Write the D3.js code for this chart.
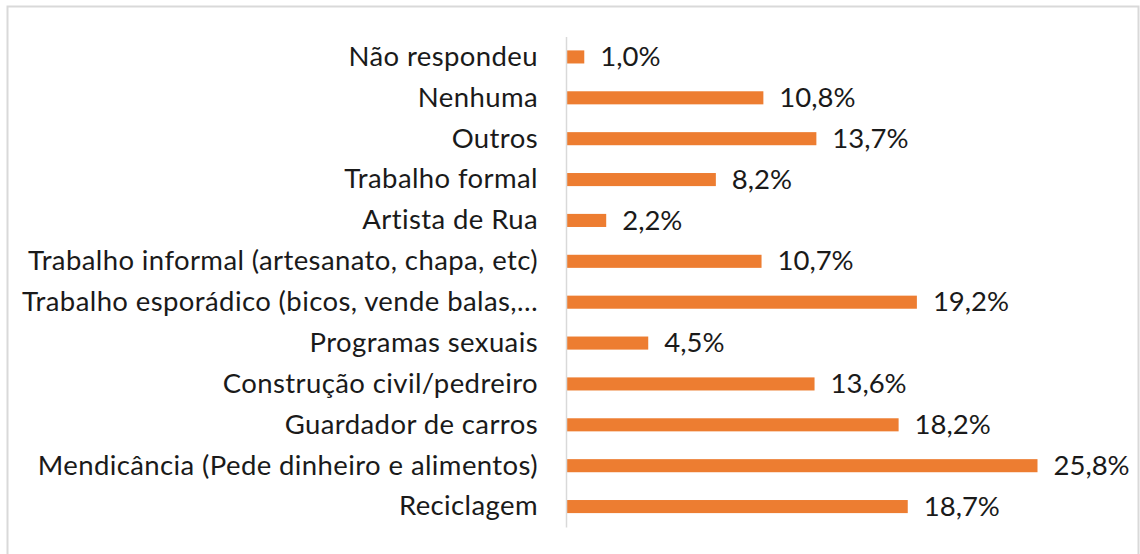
<!DOCTYPE html>
<html><head><meta charset="utf-8">
<script src="https://cdn.jsdelivr.net/npm/d3@7"></script>
<style>
html,body{margin:0;padding:0;background:#fff;}
text{font-family:Lato,"Open Sans",sans-serif;fill:#1a1a1a;}
</style></head>
<body>
<svg id="c" width="1140" height="554"></svg>
<script>
const categories = [
  "Não respondeu",
  "Nenhuma",
  "Outros",
  "Trabalho formal",
  "Artista de Rua",
  "Trabalho informal (artesanato, chapa, etc)",
  "Trabalho esporádico (bicos, vende balas,…",
  "Programas sexuais",
  "Construção civil/pedreiro",
  "Guardador de carros",
  "Mendicância (Pede dinheiro e alimentos)",
  "Reciclagem"
];
const values = [1.0, 10.8, 13.7, 8.2, 2.2, 10.7, 19.2, 4.5, 13.6, 18.2, 25.8, 18.7];
const valueLabels = ["1,0%","10,8%","13,7%","8,2%","2,2%","10,7%","19,2%","4,5%","13,6%","18,2%","25,8%","18,7%"];

const svg = d3.select("#c");
// frame
svg.append("rect").attr("x",7.5).attr("y",6.5).attr("width",1131).attr("height",560)
  .attr("fill","#fff").attr("stroke","#d9d9d9").attr("stroke-width",2);

const x0 = 566, plotTop = 36.5, plotBottom = 527;
const x = d3.scaleLinear().domain([0, 25.8]).range([x0, 1037.5]);
const y = d3.scaleBand().domain(categories).range([plotTop, plotBottom]).paddingInner(0.68).paddingOuter(0.34);

const fs = 27.5;
const g = svg.append("g");
g.selectAll("rect.bar").data(values).enter().append("rect")
  .attr("class","bar")
  .attr("x", x(0))
  .attr("y", (d,i)=>y(categories[i]))
  .attr("width", d=>x(d)-x(0))
  .attr("height", y.bandwidth())
  .attr("fill","#ED7D31");

// axis line
const yAxis = d3.axisLeft(y).tickSize(0).tickPadding(28);
const ax = svg.append("g").attr("transform",`translate(${x0},0)`).call(yAxis);
ax.select(".domain").attr("stroke","#d9d9d9").attr("stroke-width",1.5);
ax.selectAll("text").style("font-size", fs+"px").attr("fill","#1a1a1a")
  .style("letter-spacing","0.4px")
  .style("font-family","Lato, 'Open Sans', sans-serif").attr("dy","0.32em");

g.selectAll("text.val").data(values).enter().append("text")
  .attr("class","val")
  .attr("x", d=>x(d)+16)
  .attr("y", (d,i)=>y(categories[i])+y.bandwidth()/2)
  .attr("dy","0.33em")
  .style("font-size", fs+"px")
  .text((d,i)=>valueLabels[i]);
</script>
</body></html>
